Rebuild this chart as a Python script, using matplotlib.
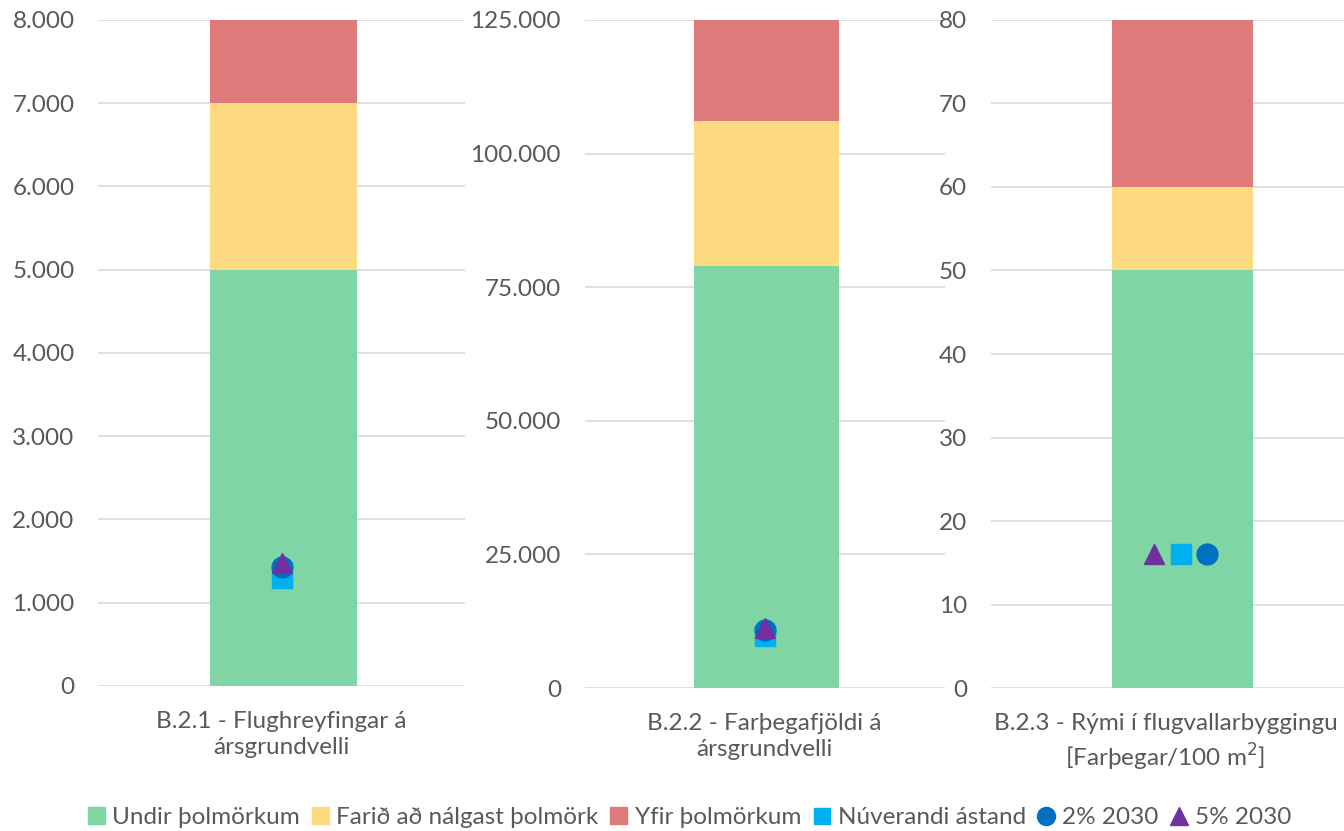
import matplotlib.pyplot as plt
from matplotlib.ticker import FuncFormatter
from matplotlib.patches import Patch
from matplotlib.lines import Line2D

plt.rcParams['font.family'] = ['Lato', 'DejaVu Sans']

# Data
categories = ["B.2.1 - Flughreyfingar á\nársgrundvelli",
              "B.2.2 - Farþegafjöldi á\nársgrundvelli",
              "B.2.3 - Rými í flugvallarbyggingu\n[Farþegar/100 m$^2$]"]
undir = [5000, 79000, 50]
farid = [2000, 27000, 10]
yfir = [1000, 19000, 20]
nuverandi = [1300, 9700, 16]
pct2_2030 = [1430, 10900, 16]
pct5_2030 = [1480, 11300, 16]
y_ticks = [[0, 1000, 2000, 3000, 4000, 5000, 6000, 7000, 8000],
           [0, 25000, 50000, 75000, 100000, 125000],
           [0, 10, 20, 30, 40, 50, 60, 70, 80]]
legend_labels = ["Undir þolmörkum", "Farið að nálgast þolmörk", "Yfir þolmörkum",
                 "Núverandi ástand", "2% 2030", "5% 2030"]

c_green = '#7fd5a4'
c_yellow = '#fedb80'
c_red = '#df7b7b'
c_sq = '#00b0f0'
c_circ = '#0070c0'
c_tri = '#7030a0'
grey = '#595959'

fig = plt.figure(figsize=(13.44, 8.31), dpi=100)
boxes = [[0.073, 0.1745, 0.273, 0.8015],
         [0.435, 0.172, 0.268, 0.804],
         [0.737, 0.172, 0.283, 0.804]]
bar_w = [0.4, 0.4, 0.37]
# panel 3 markers are side by side since values coincide
offsets = [(0, 0, 0), (0, 0, 0), (0, -0.07, 0.07)]

def dot_fmt(v, pos):
    return f"{int(v):,}".replace(",", ".")

for i in range(3):
    ax = fig.add_axes(boxes[i])
    w = bar_w[i]
    ax.bar(0.005, undir[i], width=w, color=c_green, zorder=2)
    ax.bar(0.005, farid[i], bottom=undir[i], width=w, color=c_yellow, zorder=2)
    ax.bar(0.005, yfir[i], bottom=undir[i] + farid[i], width=w, color=c_red, zorder=2)
    o_sq, o_tri, o_circ = offsets[i]
    ax.plot(o_sq, nuverandi[i], 's', color=c_sq, ms=14, zorder=3)
    ax.plot(o_circ, pct2_2030[i], 'o', color=c_circ, ms=15, zorder=4)
    ax.plot(o_tri, pct5_2030[i], '^', color=c_tri, ms=15, zorder=5)
    ax.set_xlim(-0.5, 0.5)
    ax.set_ylim(0, y_ticks[i][-1])
    ax.set_yticks(y_ticks[i])
    if i < 2:
        ax.yaxis.set_major_formatter(FuncFormatter(dot_fmt))
    ax.set_xticks([-0.04 if i == 2 else 0])
    ax.set_xticklabels([categories[i]], fontsize=17.5, color=grey, linespacing=1.3)
    ax.tick_params(axis='both', length=0, labelsize=17.5, labelcolor=grey)
    ax.tick_params(axis='y', pad=17)
    ax.tick_params(axis='x', pad=18)
    ax.grid(axis='y', color='#d9d9d9', lw=1.2, zorder=0)
    for s in ax.spines.values():
        s.set_visible(False)
    ax.set_axisbelow(True)

handles = [Patch(color=c_green), Patch(color=c_yellow), Patch(color=c_red),
           Line2D([], [], ls='', marker='s', color=c_sq, ms=12),
           Line2D([], [], ls='', marker='o', color=c_circ, ms=13),
           Line2D([], [], ls='', marker='^', color=c_tri, ms=13)]
fig.legend(handles, legend_labels, loc='center', bbox_to_anchor=(0.513, 0.016),
           ncol=6, frameon=False, fontsize=17.5, labelcolor=grey,
           handlelength=0.7, handleheight=0.7, handletextpad=0.3, columnspacing=0.5)

fig.savefig('out.png', dpi=100)
